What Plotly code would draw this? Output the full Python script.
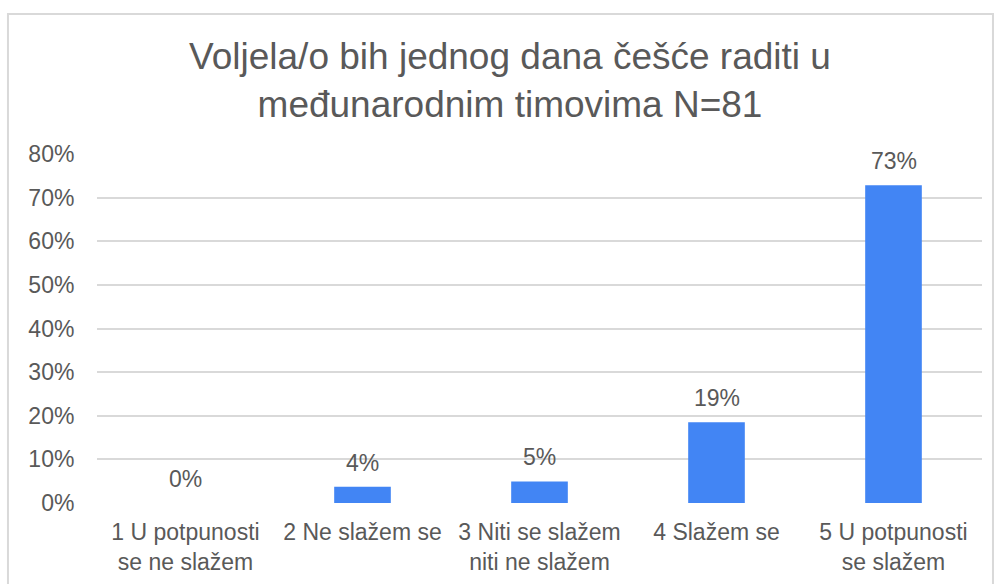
import plotly.graph_objects as go

# Survey answers (N=81) and share of respondents per answer
categories = [
    "1 U potpunosti<br>se ne slažem",
    "2 Ne slažem se",
    "3 Niti se slažem<br>niti ne slažem",
    "4 Slažem se",
    "5 U potpunosti<br>se slažem",
]
counts = [0, 3, 4, 15, 59]
total = 81
shares = [c / total for c in counts]
y_ticks = [0, 0.1, 0.2, 0.3, 0.4, 0.5, 0.6, 0.7, 0.8]

TEXT = "#595959"
GRID = "#d9d9d9"
BLUE = "#4285F4"
FONT = "Liberation Sans, Arial, sans-serif"

fig = go.Figure(
    go.Bar(
        x=categories,
        y=shares,
        marker=dict(color=BLUE, line=dict(width=0)),
        hoverinfo="skip",
    )
)

# value labels above the bars
for cat, val in zip(categories, shares):
    fig.add_annotation(
        x=cat, y=val, text=f"{val:.0%}", showarrow=False,
        yanchor="bottom", yshift=9,
        font=dict(family=FONT, size=23, color=TEXT),
    )

# light frame around the chart
fig.add_shape(
    type="rect", xref="paper", yref="paper",
    x0=-0.1006, x1=1.0124, y0=-0.35, y1=1.401,
    line=dict(color=GRID, width=2), fillcolor="rgba(0,0,0,0)", layer="below",
)

fig.update_layout(
    width=1000, height=584,
    margin=dict(l=97, r=18, t=154, b=81, pad=0, autoexpand=False),
    paper_bgcolor="white", plot_bgcolor="white",
    bargap=0.68,
    showlegend=False,
    font=dict(family=FONT, color=TEXT),
    title=dict(
        text="Voljela/o bih jednog dana češće raditi u<br>međunarodnim timovima N=81",
        x=0.51, xanchor="center", xref="container",
        y=1 - 69 / 584, yanchor="middle", yref="container",
        font=dict(family=FONT, size=37, color=TEXT),
    ),
    xaxis=dict(
        automargin=False,
        showgrid=False, showline=False, zeroline=False,
        ticks="outside", ticklen=8, tickcolor="rgba(0,0,0,0)",
        tickfont=dict(family=FONT, size=23, color=TEXT),
    ),
    yaxis=dict(
        automargin=False,
        range=[0, 0.8], tickvals=y_ticks, tickformat=".0%",
        showgrid=True, gridcolor=GRID, gridwidth=2,
        zeroline=False, showline=False,
        ticks="outside", ticklen=17, tickcolor="rgba(0,0,0,0)",
        tickfont=dict(family=FONT, size=23, color=TEXT),
    ),
)

fig.write_html("out.html")
